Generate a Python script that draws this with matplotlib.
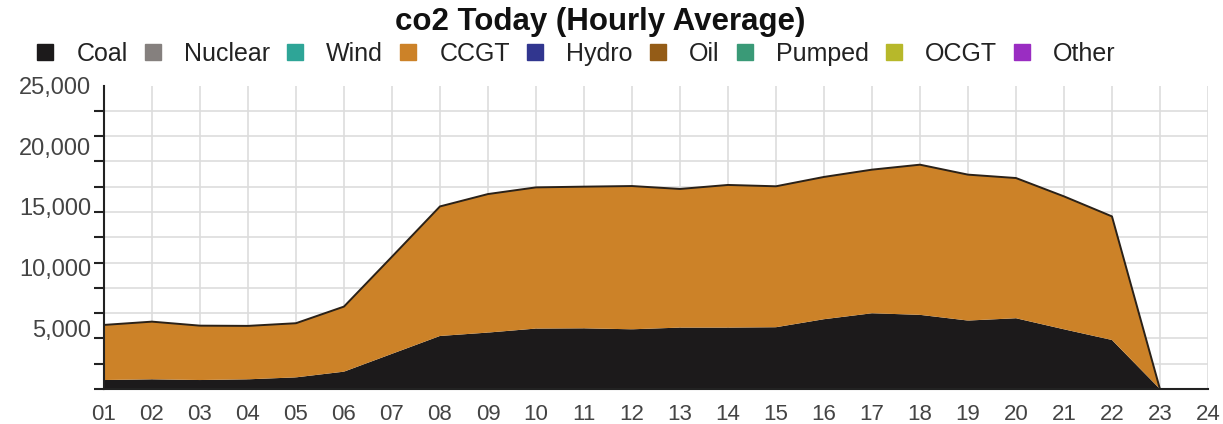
import numpy as np
import matplotlib.pyplot as plt
from matplotlib.lines import Line2D
from matplotlib.ticker import FixedLocator, FuncFormatter

plt.rcParams['font.family'] = ['Liberation Sans', 'DejaVu Sans']

# hourly averages
hours = [1, 2, 3, 4, 5, 6, 7, 8, 9, 10, 11, 12, 13, 14, 15, 16, 17, 18, 19, 20, 21, 22, 23]
coal = [740, 800, 740, 800, 960, 1430, 2900, 4370, 4650, 4980, 5000, 4920, 5060, 5060,
        5090, 5750, 6240, 6110, 5640, 5830, 4920, 4040, 0]
ccgt = [4540, 4750, 4480, 4400, 4460, 5360, 8000, 10670, 11410, 11630, 11670, 11800, 11420,
        11750, 11610, 11720, 11830, 12370, 12020, 11550, 10950, 10180, 0]

names = ['Coal', 'Nuclear', 'Wind', 'CCGT', 'Hydro', 'Oil', 'Pumped', 'OCGT', 'Other']
colors = ['#1c1a1b', '#85807e', '#2ea597', '#cc8228', '#31368f', '#945c17', '#3a9a77',
          '#b7b82a', '#9a2dc2']
xlabels = ['%02d' % h for h in range(1, 25)]
ylabels = ['5,000', '10,000', '15,000', '20,000', '25,000']

fig = plt.figure(figsize=(12.23, 4.24), dpi=100)
ax = fig.add_axes([0.0850, 0.0825, 0.9027, 0.7158])

ax.stackplot(hours, coal, ccgt, colors=[colors[0], colors[3]], linewidth=0)
total = np.array(coal) + np.array(ccgt)
ax.plot(hours, total, color='#2a2118', lw=1.4)

ax.set_xlim(1, 24)
ax.set_ylim(0, 25000)

# x axis
ax.set_xticks(range(1, 25))
ax.set_xticklabels(xlabels)
ax.tick_params(axis='x', length=0, pad=11, labelsize=16, labelcolor='#444444')

# y axis: labels at round values, ticks/grid split in twelve
ax.yaxis.set_major_locator(FixedLocator([5000, 10000, 15000, 20000, 25000]))
ax.yaxis.set_major_formatter(FuncFormatter(lambda v, p: ylabels[int(v // 5000) - 1]))
ax.yaxis.set_minor_locator(FixedLocator(np.linspace(0, 25000, 13)))
ax.tick_params(axis='y', which='major', length=0, pad=9, labelsize=17, labelcolor='#444444')
ax.tick_params(axis='y', which='minor', length=7, width=1.5, color='#222222')

ax.grid(axis='x', which='major', color='#dddddd', lw=1.2)
ax.grid(axis='y', which='minor', color='#dddddd', lw=1.2)
ax.set_axisbelow(True)

for s in ['top', 'right']:
    ax.spines[s].set_visible(False)
ax.spines['left'].set_color('#222222')
ax.spines['left'].set_linewidth(1.5)
ax.spines['bottom'].set_color('#222222')
ax.spines['bottom'].set_linewidth(1.5)

fig.text(0.491, 0.930, 'co2 Today (Hourly Average)', ha='center', va='baseline',
         fontsize=22.5, fontweight='bold', color='#111111')

handles = [Line2D([], [], marker='s', linestyle='none', markersize=12,
                  markerfacecolor=c, markeredgecolor=c) for c in colors]
fig.legend(handles, names, loc='center left', bbox_to_anchor=(0.0165, 0.873), ncol=9,
           frameon=False, fontsize=18, handlelength=1.0, handletextpad=0.75,
           columnspacing=0.5, borderpad=0, labelcolor='#222222')

fig.savefig('out.png', dpi=100)
